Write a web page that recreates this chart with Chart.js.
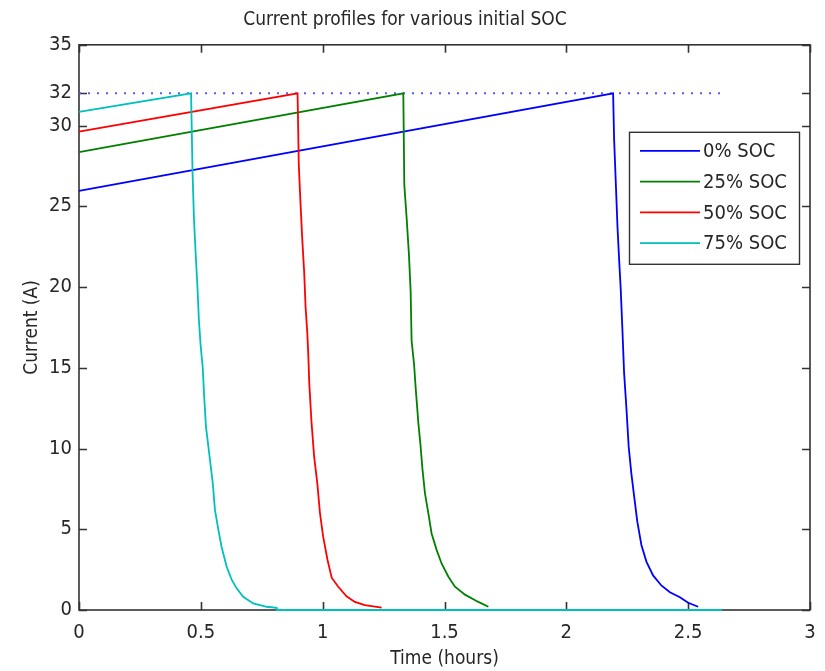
<!DOCTYPE html>
<html>
<head>
<meta charset="utf-8">
<script src="https://cdn.jsdelivr.net/npm/chart.js@4/dist/chart.umd.min.js"></script>
<style>
  html, body { margin: 0; padding: 0; background: #ffffff; }
  #wrap { width: 825px; height: 671px; }
</style>
</head>
<body>
<div id="wrap"><canvas id="c" width="825" height="671"></canvas></div>
<script>
// ---- data ----
const xTicks = [0, 0.5, 1, 1.5, 2, 2.5, 3];
const yTicks = [0, 5, 10, 15, 20, 25, 30, 32, 35];
const seriesLabels = ['0% SOC', '25% SOC', '50% SOC', '75% SOC'];
const seriesColors = ['#0000ff', '#008000', '#ff0000', '#00bfbf'];

const soc0Time    = [0, 2.192, 2.196, 2.203, 2.210, 2.217, 2.223, 2.230, 2.237, 2.247, 2.256, 2.267, 2.279, 2.291, 2.308, 2.329, 2.356, 2.390, 2.425, 2.466, 2.500, 2.541];
const soc0Current = [25.96, 32, 29.2, 26.45, 23.7, 21.6, 19.95, 17.4, 14.7, 12.4, 10.1, 8.43, 6.96, 5.5, 4.03, 2.98, 2.14, 1.52, 1.1, 0.79, 0.45, 0.2];

const soc25Time    = [0, 1.331, 1.335, 1.345, 1.354, 1.361, 1.365, 1.375, 1.382, 1.393, 1.401, 1.410, 1.420, 1.434, 1.447, 1.468, 1.488, 1.516, 1.543, 1.584, 1.639, 1.680];
const soc25Current = [28.36, 32, 26.34, 24.18, 22.02, 19.76, 16.67, 15.23, 13.69, 11.53, 10.29, 8.65, 7.21, 5.97, 4.74, 3.71, 2.88, 2.06, 1.44, 0.95, 0.5, 0.2];

const soc50Time    = [0, 0.897, 0.902, 0.909, 0.916, 0.924, 0.930, 0.937, 0.941, 0.945, 0.954, 0.965, 0.978, 0.989, 1.002, 1.020, 1.037, 1.064, 1.098, 1.132, 1.173, 1.242];
const soc50Current = [29.63, 32, 27.57, 25.2, 23.03, 20.96, 18.73, 17.14, 15.8, 14.05, 11.67, 9.5, 7.85, 5.99, 4.54, 3.1, 2.0, 1.44, 0.85, 0.5, 0.3, 0.15];

const soc75Time    = [0, 0.460, 0.466, 0.472, 0.479, 0.486, 0.492, 0.499, 0.508, 0.513, 0.521, 0.531, 0.540, 0.549, 0.558, 0.572, 0.585, 0.606, 0.627, 0.647, 0.674, 0.715, 0.770, 0.811, 0.812, 2.640];
const soc75Current = [30.85, 32, 27.06, 24.16, 22.0, 20.03, 17.97, 16.42, 14.97, 13.4, 11.36, 10.12, 8.98, 7.85, 6.2, 4.96, 3.92, 2.68, 1.86, 1.34, 0.82, 0.41, 0.2, 0.14, 0, 0];

const limitTime    = [0, 2.64];
const limitCurrent = [32, 32];

// ---- build datasets ----
const FONT = "'Liberation Sans Narrow', 'Arial Narrow', 'DejaVu Sans Condensed', sans-serif";
const FS = 19;
const TEXT = '#262626';
function pts(t, v) { return t.map((x, i) => ({ x: x, y: v[i] })); }

const seriesData = [
  pts(soc0Time, soc0Current),
  pts(soc25Time, soc25Current),
  pts(soc50Time, soc50Current),
  pts(soc75Time, soc75Current)
];

const datasets = seriesData.map((d, i) => ({
  label: seriesLabels[i],
  data: d,
  borderColor: seriesColors[i],
  backgroundColor: seriesColors[i],
  borderWidth: 1.8,
  pointRadius: 0,
  tension: 0,
  fill: false,
  clip: false,
  order: 4 - i
}));
datasets.push({
  label: '_limit',
  data: pts(limitTime, limitCurrent),
  borderColor: '#5a5aff',
  borderWidth: 2,
  borderDash: [2, 7],
  pointRadius: 0,
  fill: false,
  clip: false,
  order: 10
});

const framePlugin = {
  id: 'frame',
  beforeDatasetsDraw(chart) {
    const { ctx, chartArea: { left, right, top, bottom }, scales: { x, y } } = chart;
    ctx.save();
    ctx.strokeStyle = '#333333';
    ctx.lineWidth = 1.6;
    ctx.strokeRect(left, top, right - left, bottom - top);
    const tl = 8;
    ctx.beginPath();
    xTicks.forEach(v => {
      const px = Math.round(x.getPixelForValue(v)) + 0.5;
      ctx.moveTo(px, bottom); ctx.lineTo(px, bottom - tl);
      ctx.moveTo(px, top); ctx.lineTo(px, top + tl);
    });
    yTicks.forEach(v => {
      const py = Math.round(y.getPixelForValue(v)) + 0.5;
      ctx.moveTo(left, py); ctx.lineTo(left + tl, py);
      ctx.moveTo(right, py); ctx.lineTo(right - tl, py);
    });
    ctx.stroke();
    ctx.restore();
  },
  afterDraw(chart) {
    const { ctx, chartArea: { right, top } } = chart;
    ctx.save();
    const bw = 170, bh = 132;
    const bx = right - 11 - bw, by = top + 87;
    ctx.fillStyle = '#ffffff';
    ctx.fillRect(bx, by, bw, bh);
    ctx.lineWidth = 1.4;
    ctx.strokeStyle = '#333333';
    ctx.strokeRect(bx + 0.5, by + 0.5, bw, bh);
    ctx.font = '20px ' + FONT;
    ctx.textBaseline = 'middle';
    ctx.textAlign = 'left';
    const items = chart.data.datasets.filter(d => seriesLabels.includes(d.label));
    items.forEach((d, i) => {
      const ry = by + 19 + i * 30.8;
      ctx.strokeStyle = d.borderColor;
      ctx.lineWidth = 1.8;
      ctx.beginPath();
      ctx.moveTo(bx + 11, ry); ctx.lineTo(bx + 71, ry);
      ctx.stroke();
      ctx.fillStyle = TEXT;
      ctx.fillText(d.label, bx + 74, ry + 1);
    });
    ctx.restore();
  }
};

new Chart(document.getElementById('c'), {
  type: 'line',
  data: { datasets: datasets },
  plugins: [framePlugin],
  options: {
    responsive: false,
    animation: false,
    layout: { padding: { left: 0, right: 15, top: 0, bottom: 0 } },
    plugins: {
      legend: { display: false },
      tooltip: { enabled: false },
      title: {
        display: true,
        text: 'Current profiles for various initial SOC',
        color: TEXT,
        font: { family: FONT, size: FS, weight: 'normal' },
        padding: { top: 9, bottom: 13 }
      }
    },
    scales: {
      x: {
        type: 'linear',
        min: 0, max: 3,
        grid: { display: false, drawTicks: false },
        border: { display: false },
        afterBuildTicks(scale) { scale.ticks = xTicks.map(v => ({ value: v })); },
        afterFit(scale) { scale.height = 61; scale.paddingRight = 0; scale.paddingLeft = 0; },
        ticks: {
          color: TEXT,
          padding: 11,
          maxRotation: 0,
          font: { family: FONT, size: 20 },
          callback: v => String(v)
        },
        title: {
          display: true,
          text: 'Time (hours)',
          color: TEXT,
          font: { family: FONT, size: FS },
          padding: { top: 0, bottom: 1 }
        }
      },
      y: {
        type: 'linear',
        min: 0, max: 35,
        grid: { display: false, drawTicks: false },
        border: { display: false },
        afterBuildTicks(scale) { scale.ticks = yTicks.map(v => ({ value: v })); },
        afterFit(scale) { scale.width = 79; scale.paddingTop = 0; scale.paddingBottom = 0; },
        ticks: {
          color: TEXT,
          padding: 7,
          font: { family: FONT, size: 20 },
          callback: v => String(v)
        },
        title: {
          display: true,
          text: 'Current (A)',
          color: TEXT,
          font: { family: FONT, size: FS },
          padding: { top: 21, bottom: 0 }
        }
      }
    }
  }
});
</script>
</body>
</html>
